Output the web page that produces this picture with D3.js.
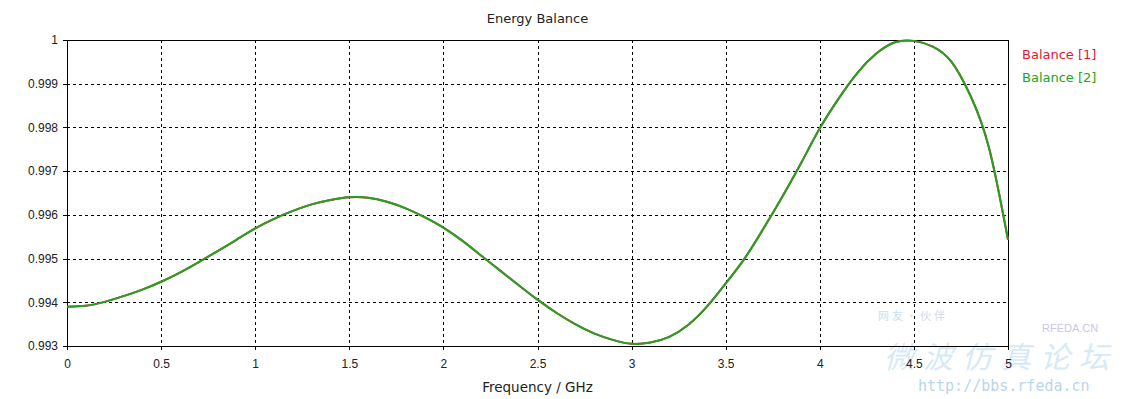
<!DOCTYPE html>
<html>
<head>
<meta charset="utf-8">
<script src="https://cdn.jsdelivr.net/npm/d3@7"></script>
<style>
  body { margin: 0; background: #fff; }
  svg { font-family: "DejaVu Sans", sans-serif; }
  .grid line { stroke: #000; stroke-dasharray: 3,3; shape-rendering: crispEdges; }
  .axis path, .axis line { stroke: #000; shape-rendering: crispEdges; }
  .axis text { font-size: 12px; fill: #222; }
</style>
</head>
<body>
<div id="chart-div"></div>
<script>
// frequency samples (GHz)
var freq = [0.0,0.1,0.2,0.3,0.4,0.5,0.6,0.7,0.8,0.9,
            1.0,1.1,1.2,1.3,1.4,1.5,1.6,1.7,1.8,1.9,
            2.0,2.1,2.2,2.3,2.4,2.5,2.6,2.7,2.8,2.9,
            3.0,3.1,3.2,3.3,3.4,3.5,3.6,3.7,3.8,3.9,
            4.0,4.1,4.2,4.3,4.4,4.5,4.6,4.7,4.8,4.9,5.0];

// Balance [2]
var balance2 = [0.99390,0.99392,0.99401,0.99414,0.99429,0.99447,0.99468,0.99492,0.99517,0.99543,
                0.99569,0.99591,0.99609,0.99624,0.99634,0.99640,0.99639,0.99630,0.99615,0.99595,
                0.99571,0.99541,0.99507,0.99473,0.99439,0.99406,0.99376,0.99350,0.99329,0.99314,
                0.99305,0.99308,0.99321,0.99348,0.99390,0.99443,0.99500,0.99568,0.99641,0.99718,
                0.99798,0.99866,0.99925,0.99969,0.99995,0.99998,0.99985,0.99950,0.99873,0.99752,0.99543];

// Balance [1] lies under Balance [2], not visible separately
var balance1 = balance2.slice();

var xTicks = [0,0.5,1,1.5,2,2.5,3,3.5,4,4.5,5];
var yTicks = [0.993,0.994,0.995,0.996,0.997,0.998,0.999,1];

var seriesNames = ["Balance [1]", "Balance [2]"];
var seriesColors = ["#dc1a35", "#22a322"];

var width = 1129, height = 399;
var margin = {top: 40, right: 121, bottom: 53, left: 67};
var w = width - margin.left - margin.right,
    h = height - margin.top - margin.bottom;

var svg = d3.select("#chart-div").append("svg")
    .attr("width", width)
    .attr("height", height);

// watermark (faint)
var wm = svg.append("g").attr("class", "watermark");
wm.append("text")
    .attr("x", 878).attr("y", 320)
    .style("font-family", "Noto Sans CJK SC")
    .style("font-size", "11px")
    .style("letter-spacing", "3px")
    .style("fill", "#cddcee")
    .text("网友·伙伴");
wm.append("text")
    .attr("x", 1042).attr("y", 332)
    .style("font-family", "Liberation Sans")
    .style("font-size", "11px")
    .style("fill", "#cbc8e6")
    .text("RFEDA.CN");
wm.append("text")
    .attr("x", 884).attr("y", 368)
    .style("font-family", "Noto Sans CJK SC")
    .style("font-size", "30px")
    .style("font-style", "italic")
    .style("letter-spacing", "9px")
    .style("fill", "#d8e9f6")
    .text("微波仿真论坛");
wm.append("text")
    .attr("x", 918).attr("y", 391)
    .style("font-family", "DejaVu Sans Mono")
    .style("font-size", "15px")
    .style("fill", "#b8d6ec")
    .text("http://bbs.rfeda.cn");

var g = svg.append("g")
    .attr("transform", "translate(" + margin.left + "," + margin.top + ")");

var x = d3.scaleLinear().domain([0, 5]).range([0, w]);
var y = d3.scaleLinear().domain([0.993, 1]).range([h, 0]);

// grid
g.append("g")
    .attr("class", "grid")
    .selectAll("line.v")
    .data(xTicks.slice(1, -1))
    .enter().append("line")
    .attr("x1", function(d) { return Math.round(x(d)) + 0.5; })
    .attr("x2", function(d) { return Math.round(x(d)) + 0.5; })
    .attr("y1", 0).attr("y2", h);

g.append("g")
    .attr("class", "grid")
    .selectAll("line.h")
    .data(yTicks.slice(1, -1))
    .enter().append("line")
    .attr("y1", function(d) { return Math.round(y(d)) + 0.5; })
    .attr("y2", function(d) { return Math.round(y(d)) + 0.5; })
    .attr("x1", 0).attr("x2", w);

// axes
var xAxis = d3.axisBottom(x).tickValues(xTicks).tickSize(4).tickSizeOuter(0)
    .tickFormat(function(d) { return d; });
var yAxis = d3.axisLeft(y).tickValues(yTicks).tickSize(4).tickSizeOuter(0)
    .tickFormat(function(d) { return +d.toFixed(3); });

g.append("g")
    .attr("class", "x axis")
    .attr("transform", "translate(0," + h + ")")
    .call(xAxis)
    .selectAll("text").attr("dy", "1.25em");

g.append("g")
    .attr("class", "y axis")
    .call(yAxis)
    .selectAll("text").attr("dx", "-2px");

// frame
g.append("rect")
    .attr("x", 0.5).attr("y", 0.5)
    .attr("width", w).attr("height", h)
    .style("fill", "none")
    .style("stroke", "#000")
    .style("shape-rendering", "crispEdges");

// curves
var line = d3.line()
    .x(function(d) { return x(d[0]); })
    .y(function(d) { return y(d[1]); })
    .curve(d3.curveNatural);

[balance1, balance2].forEach(function(vals, i) {
    var pts = freq.map(function(f, j) { return [f, vals[j]]; });
    g.append("path")
        .datum(pts)
        .attr("d", line)
        .style("fill", "none")
        .style("stroke", seriesColors[i])
        .style("stroke-width", 2);
});

// title
svg.append("text")
    .attr("x", margin.left + w / 2)
    .attr("y", 23)
    .attr("text-anchor", "middle")
    .style("font-size", "13px")
    .style("fill", "#222")
    .text("Energy Balance");

// x label
svg.append("text")
    .attr("x", margin.left + w / 2)
    .attr("y", 392)
    .attr("text-anchor", "middle")
    .style("font-size", "13.5px")
    .style("fill", "#222")
    .text("Frequency / GHz");

// legend
svg.selectAll(".legend-labels")
    .data(seriesNames)
    .enter().append("text")
    .attr("class", "legend-labels")
    .attr("x", 1022)
    .attr("y", function(d, i) { return 59 + i * 23; })
    .style("font-size", "13px")
    .style("fill", function(d, i) { return seriesColors[i]; })
    .text(function(d) { return d; });
</script>
</body>
</html>
